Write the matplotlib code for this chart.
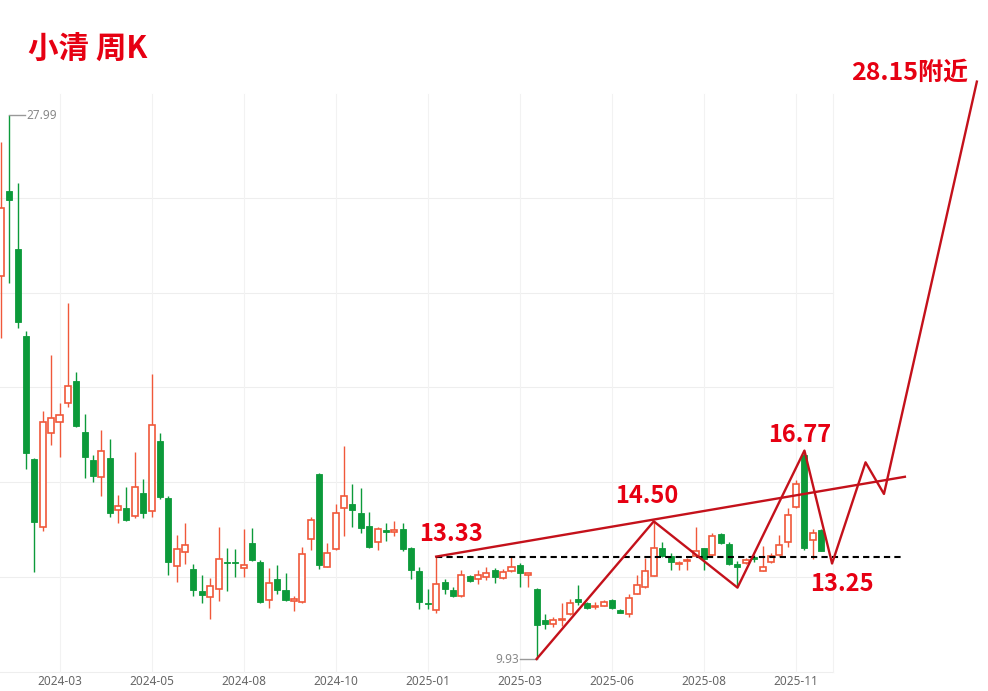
import matplotlib
matplotlib.use("Agg")
import matplotlib.pyplot as plt
from matplotlib.patches import Rectangle

plt.rcParams['font.family'] = ['Noto Sans CJK SC', 'DejaVu Sans']

# weekly candles: open, high, low, close
opens = [22.65, 25.48, 23.54, 20.66, 16.57, 14.32, 17.43, 17.80, 18.44, 19.17,
         17.48, 16.54, 15.97, 16.60, 14.88, 14.94, 14.68, 15.45, 14.85, 17.18,
         15.29, 13.02, 13.47, 12.92, 12.20, 11.98, 12.26, 13.15, 13.15, 12.96,
         13.78, 13.16, 11.89, 12.57, 12.22, 11.87, 11.83, 13.91, 16.07, 12.99,
         13.58, 14.94, 15.08, 14.77, 14.35, 13.82, 14.20, 14.16, 14.26, 13.63,
         12.85, 11.78, 11.56, 12.50, 12.22, 12.03, 12.69, 12.58, 12.64, 12.88,
         12.61, 12.85, 13.05, 12.73, 12.26, 11.22, 11.09, 11.22, 11.42, 11.91,
         11.80, 11.65, 11.70, 11.89, 11.57, 11.42, 12.09, 12.33, 12.70, 13.63,
         13.36, 13.08, 13.17, 13.35, 13.61, 13.38, 14.08, 13.74, 13.07, 13.13,
         13.31, 12.86, 13.16, 13.38, 13.80, 14.98, 16.70, 13.88, 14.21]
highs = [27.09, 27.99, 25.74, 20.82, 16.60, 18.17, 20.02, 18.44, 21.75, 19.47,
         18.06, 16.70, 17.53, 17.23, 15.37, 15.65, 16.80, 15.90, 19.39, 17.43,
         15.35, 14.05, 14.46, 13.10, 12.71, 12.63, 14.32, 13.63, 13.59, 14.26,
         14.29, 13.22, 12.94, 13.05, 12.77, 12.02, 13.64, 14.63, 16.10, 13.77,
         15.08, 17.00, 15.74, 15.60, 14.82, 14.32, 14.43, 14.51, 14.45, 13.65,
         12.99, 12.27, 13.33, 12.58, 12.33, 12.88, 12.72, 12.88, 12.97, 12.94,
         12.91, 13.31, 13.13, 12.80, 12.28, 11.42, 11.33, 11.78, 11.91, 12.39,
         11.83, 11.83, 11.89, 11.91, 11.60, 12.09, 12.72, 13.27, 14.50, 13.80,
         13.46, 13.19, 13.27, 14.32, 13.63, 14.10, 14.12, 13.80, 13.19, 13.27,
         13.38, 13.68, 13.45, 14.05, 14.93, 15.87, 16.77, 14.26, 14.23]
lows = [20.59, 22.41, 20.92, 16.24, 12.82, 14.19, 17.04, 16.64, 18.31, 17.62,
        15.94, 15.82, 15.34, 14.65, 14.46, 14.50, 14.60, 14.61, 14.65, 15.25,
        12.72, 12.50, 13.10, 12.02, 11.78, 11.27, 11.87, 12.20, 12.64, 12.66,
        13.20, 11.78, 11.61, 12.08, 11.86, 11.53, 11.78, 13.55, 12.92, 12.97,
        13.56, 14.01, 14.32, 14.10, 13.60, 13.55, 13.85, 14.03, 13.50, 12.60,
        11.60, 11.59, 11.47, 12.09, 12.00, 12.00, 12.50, 12.42, 12.55, 12.44,
        12.58, 12.83, 12.33, 12.31, 9.93, 10.91, 11.00, 11.03, 11.40, 11.72,
        11.60, 11.58, 11.68, 11.59, 11.45, 11.33, 12.08, 12.30, 12.68, 13.31,
        12.88, 12.88, 12.88, 13.33, 12.88, 13.33, 13.75, 13.05, 12.33, 13.10,
        13.16, 12.84, 13.13, 13.36, 13.66, 14.95, 13.55, 13.24, 13.50]
closes = [24.90, 25.17, 21.12, 16.77, 14.49, 17.80, 17.94, 18.03, 19.00, 17.67,
          16.64, 16.00, 16.84, 14.79, 15.01, 14.54, 15.65, 14.79, 17.70, 15.32,
          13.14, 13.58, 13.72, 12.22, 12.05, 12.36, 13.26, 13.11, 13.11, 13.05,
          13.23, 11.81, 12.46, 12.22, 11.89, 11.91, 13.40, 14.56, 13.05, 13.44,
          14.77, 15.35, 14.88, 14.29, 13.66, 14.26, 14.16, 14.20, 13.58, 12.89,
          11.83, 11.75, 12.41, 12.26, 12.02, 12.72, 12.52, 12.72, 12.80, 12.64,
          12.81, 13.00, 12.80, 12.77, 11.06, 11.08, 11.22, 11.26, 11.78, 11.83,
          11.61, 11.69, 11.83, 11.61, 11.47, 11.97, 12.39, 12.85, 13.63, 13.36,
          13.16, 13.12, 13.21, 13.52, 13.24, 14.02, 13.77, 13.08, 12.99, 13.23,
          13.24, 12.97, 13.35, 13.71, 14.71, 15.74, 13.60, 14.13, 13.52]

date_labels = ['2024-03', '2024-05', '2024-08', '2024-10', '2025-01',
               '2025-03', '2025-06', '2025-08', '2025-11']
date_idx = [7, 18, 29, 40, 51, 62, 73, 84, 95]
grid_prices = [9.50, 12.65, 15.81, 18.96, 22.08, 25.24]

# drawn analysis
trend_idx = [52, 108]
trend_val = [13.33, 15.98]
support_val = 13.33
support_idx = [52, 107.6]
zig_idx = [64, 78, 88, 96, 99.3, 103.3, 105.5, 116.6]
zig_val = [9.93, 14.50, 12.30, 16.85, 13.10, 16.46, 15.41, 29.10]

UP = '#f0583a'
DOWN = '#0c9a3a'
LINE = '#c4111b'
TXT = '#e60012'

fig = plt.figure(figsize=(9.88, 6.91), dpi=100)
ax = fig.add_axes([0, 0, 1, 1])
ax.set_xlim(-0.11, 117.93)
ax.set_ylim(8.868, 31.809)
ax.axis('off')

# grid
x_end = 99.4
for p in grid_prices:
    ax.plot([-0.11, x_end], [p, p], color='#eeeeee', lw=0.8, zorder=0)
for i in date_idx + [x_end]:
    ax.plot([i, i], [9.5, 28.7], color='#f2f2f2', lw=0.8, zorder=0)
for i, lab in zip(date_idx, date_labels):
    ax.text(i, 9.17, lab, ha='center', va='center', fontsize=8.5,
            color='#666666', family=['Noto Sans', 'DejaVu Sans'])

# candles
w = 0.72
for i in range(len(opens)):
    o, h, l, c = opens[i], highs[i], lows[i], closes[i]
    up = c >= o
    col = UP if up else DOWN
    ax.plot([i, i], [l, h], color=col, lw=1.0, zorder=2,
            solid_capstyle='butt')
    bot = min(o, c)
    ht = max(abs(c - o), 0.03)
    if up:
        ax.add_patch(Rectangle((i - w / 2, bot), w, ht, facecolor='white',
                               edgecolor=col, lw=1.2, zorder=3))
    else:
        ax.add_patch(Rectangle((i - w / 2, bot), w, ht, facecolor=col,
                               edgecolor=col, lw=0.6, zorder=3))

# max / min markers
ax.plot([1, 2.9], [27.99, 27.99], color='#999999', lw=1, zorder=2)
ax.text(3.0, 27.99, '27.99', ha='left', va='center', fontsize=8.5,
        color='#888888', family=['Noto Sans', 'DejaVu Sans'])
ax.plot([62.0, 64], [9.93, 9.93], color='#999999', lw=1, zorder=2)
ax.text(61.9, 9.93, '9.93', ha='right', va='center', fontsize=8.5,
        color='#888888', family=['Noto Sans', 'DejaVu Sans'])

# analysis lines
ax.plot(support_idx, [support_val, support_val], color='black', lw=1.5,
        linestyle=(0, (3, 2)), zorder=4)
ax.plot(trend_idx, trend_val, color=LINE, lw=1.7, zorder=5)
ax.plot(zig_idx, zig_val, color=LINE, lw=1.7, zorder=5)

# labels (baseline placed)
lab_kw = dict(fontweight='bold', color=TXT, ha='center', va='baseline')
ax.text(3.2, 29.85, '小清 周K', fontsize=22, fontweight='bold', color=TXT,
        ha='left', va='baseline')
ax.text(108.6, 29.15, '28.15附近', fontsize=18, **lab_kw)
ax.text(53.8, 13.85, '13.33', fontsize=17, **lab_kw)
ax.text(77.1, 15.10, '14.50', fontsize=17, **lab_kw)
ax.text(95.4, 17.14, '16.77', fontsize=17, **lab_kw)
ax.text(100.5, 12.20, '13.25', fontsize=17, **lab_kw)

fig.savefig('out.png', dpi=100)
